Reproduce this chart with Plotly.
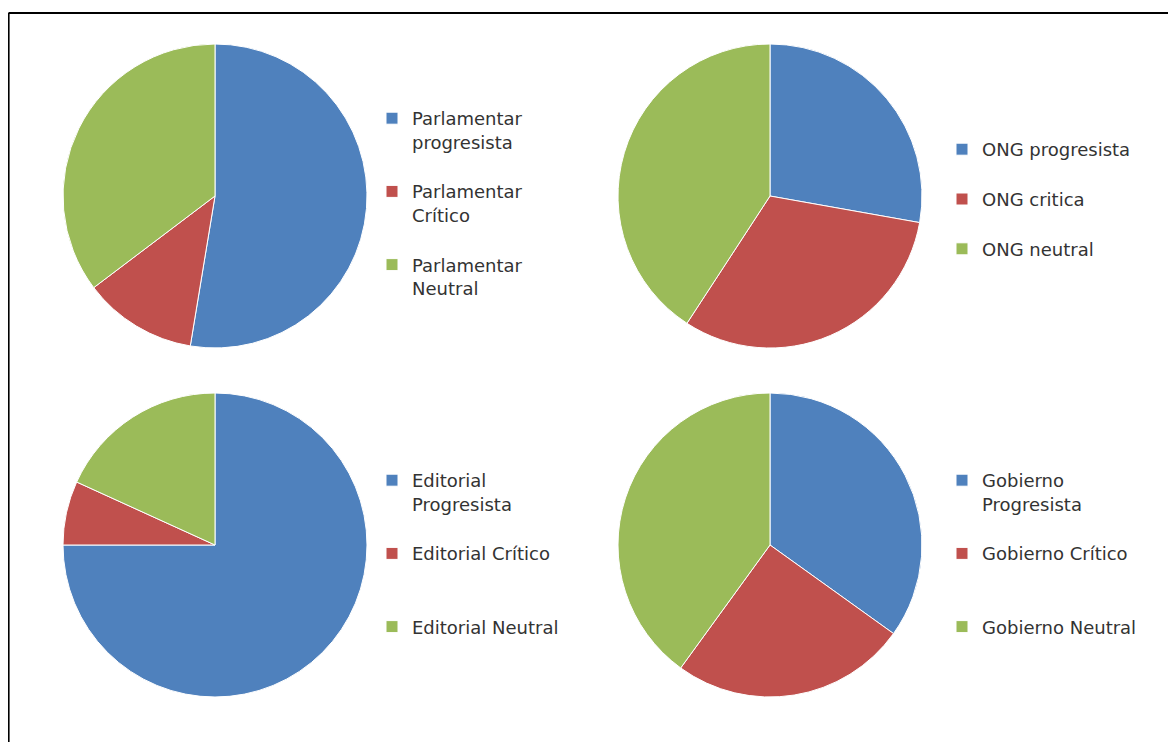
import plotly.graph_objects as go

# The page places the figure 8px from the top-left corner of the window.
OFF = 8
W, H = 1176 - OFF, 742 - OFF

colors = ["#4F81BD", "#C0504D", "#9BBB59"]

parl_labels = ["Parlamentar<br>progresista<br> ", "Parlamentar<br>Crítico<br> ", "Parlamentar<br>Neutral<br> "]
parl_values = [52.6, 12.1, 35.3]

ong_labels = ["ONG progresista<br> ", "ONG critica<br> ", "ONG neutral<br> "]
ong_values = [27.8, 31.4, 40.8]

edit_labels = ["Editorial<br>Progresista<br> ", "Editorial Crítico<br> <br> ", "Editorial Neutral"]
edit_values = [75.0, 6.8, 18.2]

gob_labels = ["Gobierno<br>Progresista<br> ", "Gobierno Crítico<br> <br> ", "Gobierno Neutral"]
gob_values = [34.9, 25.1, 40.0]


def px(x):
    return (x - OFF) / W


def py(y):
    return 1 - (y - OFF) / H


# pixel boxes (window coords) for pies: (left, top, right, bottom)
boxes = [(63, 44, 367, 348), (618, 44, 922, 348), (63, 393, 367, 697), (618, 393, 922, 697)]
legend_pos = [(372, 100), (942, 131), (372, 462), (942, 462)]

datasets = [(parl_labels, parl_values), (ong_labels, ong_values),
            (edit_labels, edit_values), (gob_labels, gob_values)]

fig = go.Figure()
legend_names = ["legend", "legend2", "legend3", "legend4"]
for (labels, values), (l, t, r, b), lg in zip(datasets, boxes, legend_names):
    fig.add_trace(go.Pie(
        labels=labels, values=values, sort=False, direction="clockwise", rotation=0,
        marker=dict(colors=colors, line=dict(color="white", width=1)),
        textinfo="none", hoverinfo="label+percent",
        domain=dict(x=[px(l), px(r)], y=[py(b), py(t)]),
        legend=lg,
    ))

layout_legends = {}
for lg, (lx, ly) in zip(legend_names, legend_pos):
    layout_legends[lg] = dict(
        x=px(lx), y=py(ly), xanchor="left", yanchor="top",
        font=dict(family="DejaVu Sans", size=18, color="#333333"),
        valign="top", bgcolor="rgba(0,0,0,0)",
    )

fig.update_layout(
    width=W, height=H,
    margin=dict(l=0, r=0, t=0, b=0),
    paper_bgcolor="white", plot_bgcolor="white",
    showlegend=True,
    shapes=[
        dict(type="line", xref="paper", yref="paper", x0=px(8.5), x1=1, y0=py(13), y1=py(13),
             line=dict(color="black", width=2.2)),
        dict(type="line", xref="paper", yref="paper", x0=px(8.5), x1=px(8.5), y0=0, y1=py(13),
             line=dict(color="black", width=2.2)),
    ],
    **layout_legends,
)

fig.write_html("out.html")
